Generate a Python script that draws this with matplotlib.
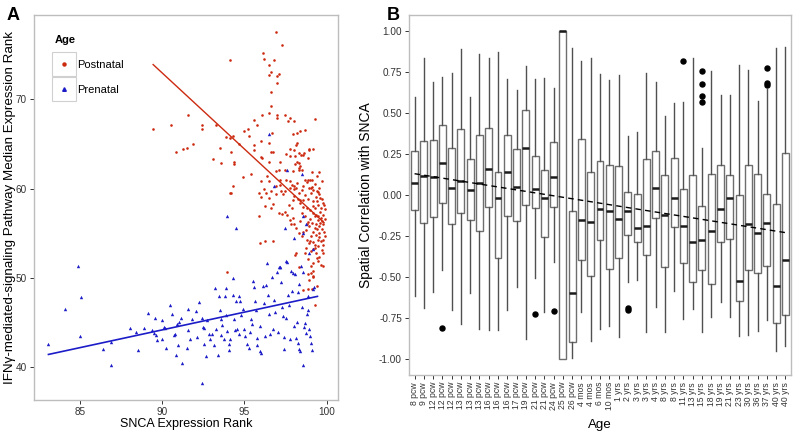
import numpy as np
import matplotlib
matplotlib.use("Agg")
import matplotlib.pyplot as plt
from matplotlib.lines import Line2D
from matplotlib.patches import Rectangle

plt.rcParams['font.family'] = ['Liberation Sans', 'DejaVu Sans']
plt.rcParams['axes.unicode_minus'] = False

# ---------------- panel A data ----------------
red_x = [96.92, 97.28, 94.1, 96.13, 96.19, 96.8, 96.5, 96.6, 96.5, 97.1, 97.0, 96.96, 96.6, 96.64,
         96.5, 96.1, 96.96, 97.0, 97.45, 97.75, 97.65, 98.05, 99.3, 91.6, 92.45, 92.4, 93.26, 95.8,
         95.6, 91.9, 91.5, 91.27, 89.45, 90.53, 90.83,
         93.5, 93.1, 93.6, 94.3, 94.15, 93.9, 95.0, 95.2, 95.3, 94.7, 94.2, 94.35, 94.4, 95.6, 95.6,
         96.0, 96.6, 96.75, 96.5, 96.7, 96.1, 96.0, 96.5, 97.2, 97.1, 96.95, 97.45, 97.55, 97.8, 97.8,
         98.05, 98.2, 97.98, 98.2, 98.15, 98.4, 98.7, 98.1, 98.35, 98.45, 98.6, 98.65, 98.96, 99.17,
         98.96, 98.9, 98.2, 98.3, 98.1, 98.4, 98.35, 97.95, 98.3, 98.5, 99.1, 99.57, 99.4, 99.0, 99.1,
         98.85, 98.8, 98.7, 99.1, 99.2, 98.95, 99.03, 99.4, 99.5, 97.75, 97.55, 97.2, 97.9, 97.75,
         98.05, 98.03, 98.15, 97.5, 97.15, 96.2, 96.4, 96.5, 96.0, 95.4, 94.9, 94.3, 94.1, 94.2, 95.9,
         96.3, 96.6, 96.9,
         95.99, 96.23, 95.87, 96.5, 96.94, 97.35, 97.25, 96.74, 96.6, 97.1, 97.5, 97.6, 97.27, 97.7,
         97.9, 97.99, 98.26, 98.4, 98.6, 98.6, 98.8, 99.0, 99.17, 99.06, 99.37, 99.57, 99.17, 99.47,
         99.67, 99.77, 99.27, 99.47, 99.67, 99.37, 99.57, 98.86, 98.96, 98.76, 99.17, 99.37, 99.57,
         99.06, 99.47, 98.82, 98.96, 99.27, 99.67, 99.77, 98.76, 99.06, 99.17, 99.37, 99.57, 99.67,
         99.77, 99.47, 99.17, 98.86, 99.06, 99.2, 98.15, 98.1, 96.23, 95.93, 96.74, 97.85, 98.05,
         98.15, 97.95, 97.8, 98.4, 98.5, 98.7, 98.4, 93.97, 99.06, 99.17, 98.56, 98.86, 99.13, 99.43,
         98.3, 99.27, 98.9, 99.17, 98.93,
         99.6, 99.8, 99.7, 99.85, 99.5, 99.8, 99.6, 99.3, 99.4, 99.7, 99.9, 99.3, 99.1, 99.0, 99.5,
         99.7, 99.3, 99.8, 99.4, 99.9, 99.0, 99.55, 99.3, 99.75, 99.2, 98.9, 99.85, 99.6, 99.2, 99.45,
         99.35, 99.7, 99.8, 99.9, 99.55,
         98.3, 98.5, 98.7, 98.2, 98.6, 98.0, 98.8, 98.6, 98.5, 98.35, 98.7]
red_y = [77.5, 76.1, 74.4, 75.2, 74.5, 74.4, 73.8, 73.1, 72.7, 72.8, 72.6, 71.8, 70.8, 69.3,
         68.5, 68.3, 68.2, 67.9, 68.3, 67.9, 67.6, 67.6, 67.8, 68.3, 67.1, 66.7, 67.1, 67.1,
         67.7, 65.0, 64.6, 64.4, 66.7, 67.1, 64.06,
         64.6, 63.3, 62.9, 65.9, 65.7, 65.8, 66.5, 66.7, 65.9, 65.0, 64.1, 63.0, 62.8, 64.9, 64.3,
         65.3, 64.1, 64.1, 65.1, 66.2, 63.4, 63.5, 63.0, 63.0, 62.1, 62.0, 62.1, 63.9, 63.7, 64.4,
         64.3, 66.2, 66.1, 65.1, 64.9, 66.5, 66.6, 63.7, 64.0, 63.8, 63.8, 64.0, 64.5, 64.4,
         64.3, 63.4, 63.0, 62.9, 62.8, 62.5, 62.3, 62.0, 62.1, 62.1, 61.9, 61.9, 61.4, 61.0, 61.0,
         61.0, 60.8, 61.0, 60.2, 59.9, 60.1, 60.1, 59.7, 59.6, 60.9, 61.0, 61.0, 60.4, 60.1,
         60.3, 60.0, 60.1, 59.7, 60.4, 60.0, 61.4, 60.9, 60.9, 61.7, 61.3, 60.3, 59.5, 59.5, 59.5,
         59.5, 59.8, 60.3,
         59.1, 58.1, 56.9, 59.0, 59.4, 59.4, 59.7, 58.3, 57.8, 57.3, 57.4, 57.05, 57.2, 58.2,
         57.8, 58.7, 58.9, 58.4, 58.0, 58.7, 57.8, 57.6, 57.3, 59.5, 59.1, 59.4, 58.6, 58.2,
         57.8, 58.4, 56.9, 56.5, 56.7, 56.1, 55.8, 56.3, 55.8, 55.4, 55.2, 54.8, 55.0,
         54.7, 54.3, 54.3, 53.9, 53.7, 54.1, 54.3, 53.4, 53.0, 53.2, 52.8, 52.4, 51.5,
         51.3, 51.9, 51.7, 52.1, 51.3, 50.75, 52.8, 52.6, 54.1, 53.9, 54.2, 56.1, 56.1,
         55.6, 56.7, 56.5, 56.4, 57.3, 56.9, 58.7, 50.7, 50.6, 50.1, 48.7, 48.8, 48.8, 49.1,
         51.2, 47.0, 50.5, 50.2, 49.8,
         56.2, 56.0, 55.5, 55.2, 56.9, 57.1, 57.4, 57.8, 58.6, 58.8, 57.7, 55.6, 56.2, 56.6, 53.6,
         53.1, 53.4, 52.8, 52.2, 54.7, 54.2, 60.1, 60.5, 60.9, 58.1, 58.9, 58.2, 59.0, 54.0, 55.5,
         57.1, 56.4, 53.7, 56.6, 54.6,
         59.5, 59.9, 59.3, 60.6, 60.3, 59.2, 56.0, 55.2, 54.7, 55.0, 52.8]

blue_x = [83.08, 84.88, 84.1, 85.04, 85.0, 86.4, 86.9, 86.9, 88.5, 88.04, 88.4, 88.9, 89.15, 89.4,
          89.5, 89.58, 89.6, 89.66, 89.96, 90.1, 90.16, 90.0, 90.25, 90.5, 90.6, 90.72, 90.78, 90.9,
          91.0, 91.14, 90.95, 90.85, 91.18, 91.5, 91.6, 91.58, 91.7, 91.79, 92.07, 92.13, 92.27,
          92.43, 92.5, 92.56, 92.57, 92.64, 92.4, 92.74, 92.84, 92.94, 93.04, 93.16, 93.24, 93.28,
          93.38, 93.45, 93.5, 93.55, 93.6, 93.65, 93.75, 93.85, 93.9, 93.91, 93.95, 94.05, 94.09,
          94.15, 94.3, 94.3, 94.36, 94.42, 94.5, 94.58, 94.66, 94.7, 94.76, 94.8, 94.92, 94.96,
          95.02, 95.16, 95.26, 95.33, 95.43, 95.47, 95.51, 95.61, 95.67, 95.73, 95.77, 95.8, 95.93,
          95.98, 96.04, 96.14, 96.18, 96.24, 96.34, 96.4, 96.44, 96.5, 96.54, 96.66, 96.74, 96.83,
          96.89, 97.0, 97.06, 97.09, 97.17, 97.23, 97.29, 97.35, 97.39, 97.43, 97.51, 97.6, 97.66,
          97.74, 97.8, 97.86, 97.9, 97.96, 98.1, 98.04, 98.12, 98.2, 98.24, 98.27, 98.33, 98.31,
          98.4, 98.5, 98.6, 98.65, 98.71, 98.77, 98.81, 98.85, 98.89, 98.95, 98.99, 99.05, 99.1,
          99.15, 99.21,
          96.5, 97.6, 98.5, 96.8, 93.97, 94.5, 98.6, 97.5, 98.05, 98.56, 98.76, 97.55, 97.14,
          98.45, 98.6, 98.96, 99.17]
blue_y = [42.6, 51.35, 46.55, 47.9, 43.5, 42.06, 40.27, 42.8, 42.0, 44.36, 44.0, 44.4, 46.1, 44.2,
          43.9, 45.5, 43.6, 43.1, 45.3, 44.5, 44.4, 43.2, 42.2, 46.96, 46.03, 43.6, 43.7, 44.9,
          45.05, 45.5, 42.5, 41.4, 40.5, 42.2, 44.2, 46.55, 43.2, 45.4, 46.3, 43.43, 47.3,
          45.5, 44.55, 44.45, 42.58, 41.3, 38.3, 45.25, 43.76, 43.13, 43.76, 42.54, 48.93, 44.25,
          41.4, 47.97, 46.4, 45.4, 43.65, 44.7, 43.2, 47.97, 48.9, 45.9, 44.06, 42.65, 42.0,
          43.2, 50.05, 48.15, 45.4, 44.14, 47.4, 44.25, 43.76, 48.0, 47.48, 45.9, 46.55, 44.25,
          43.5, 42.57, 42.13, 43.95, 45.4, 44.9, 49.7, 48.97, 47.4, 46.37, 43.3, 42.46, 44.6,
          41.83, 41.65, 49.08, 47.2, 43.5, 49.27, 51.68, 48.15, 46.03, 43.7, 50.12, 44.25, 47.5,
          46.2, 50.64, 43.99, 51.24, 51.24, 49.6, 46.77, 45.73, 42.05, 43.4, 45.5, 51.83, 48.1,
          46.96, 43.2, 50.75, 48.5, 50.6, 50.5, 44.6, 43.3, 45.1, 48.4, 42.7, 49.3, 42.1,
          41.8, 46.8, 40.24, 44.5, 45.0, 43.9, 46.0, 48.0, 46.4, 44.3, 43.5, 42.7, 42.0,
          48.8, 49.0,
          66.1, 62.1, 61.7, 60.3, 57.0, 55.6, 56.9, 55.66, 54.47, 55.0, 56.1, 51.87, 51.2,
          51.4, 50.7, 52.86, 53.2]

# fitted lines
red_fit_x = [89.45, 99.85]
red_fit_y = [73.9, 56.2]
blue_fit_x = [83.08, 99.45]
blue_fit_y = [41.45, 47.95]

# ---------------- panel B data ----------------
ages = ["8 pcw", "9 pcw", "12 pcw", "12 pcw", "12 pcw", "13 pcw", "13 pcw", "13 pcw", "16 pcw",
        "16 pcw", "16 pcw", "17 pcw", "19 pcw", "21 pcw", "21 pcw", "24 pcw", "25 pcw", "26 pcw",
        "4 mos", "4 mos", "6 mos", "10 mos", "1 yrs", "2 yrs", "3 yrs", "3 yrs", "4 yrs", "8 yrs",
        "8 yrs", "11 yrs", "13 yrs", "15 yrs", "18 yrs", "19 yrs", "21 yrs", "23 yrs", "30 yrs",
        "36 yrs", "37 yrs", "40 yrs", "40 yrs"]
whis_lo = [-0.62, -0.69, -0.59, -0.46, -0.70, -0.787, -0.60, -0.82, -0.825, -0.825, -0.70, -0.565,
           -0.878, -0.506, -0.717, -0.41, -1.0, -0.996, -0.713, -0.89, -0.82, -0.80, -0.866, -0.533,
           -0.522, -0.837, -0.683, -0.837, -0.585, -0.756, -0.695, -0.84, -0.748, -0.654, -0.748,
           -0.862, -0.858, -0.83, -0.762, -0.955, -0.92]
q1 = [-0.09, -0.17, -0.134, -0.05, -0.177, -0.112, -0.152, -0.22, -0.073, -0.386, -0.13, -0.156,
      -0.063, -0.08, -0.256, -0.075, -1.0, -0.90, -0.396, -0.496, -0.274, -0.45, -0.386, -0.246,
      -0.29, -0.366, -0.142, -0.44, -0.197, -0.417, -0.533, -0.46, -0.545, -0.29, -0.268,
      -0.646, -0.457, -0.476, -0.433, -0.78, -0.734]
med = [0.075, 0.118, 0.108, 0.197, 0.045, 0.083, 0.033, 0.071, 0.156, -0.016, 0.138, 0.049,
       0.285, 0.035, -0.016, 0.11, 1.0, -0.60, -0.15, -0.163, -0.083, -0.098, -0.148, -0.098,
       -0.203, -0.187, 0.04, -0.122, -0.016, -0.189, -0.287, -0.278, -0.22, -0.083, -0.02,
       -0.528, -0.179, -0.23, -0.171, -0.555, -0.40]
q3 = [0.27, 0.33, 0.335, 0.425, 0.285, 0.406, 0.217, 0.364, 0.41, 0.138, 0.364, 0.278,
      0.518, 0.237, 0.15, 0.323, 1.0, -0.10, 0.341, 0.138, 0.205, 0.183, 0.179, 0.02,
      0.004, 0.22, 0.268, 0.124, 0.228, 0.035, 0.12, -0.067, 0.126, 0.185, 0.124,
      -0.002, 0.181, 0.128, 0.004, -0.053, 0.258]
whis_hi = [0.60, 0.837, 0.69, 0.72, 0.748, 0.89, 0.60, 0.86, 0.84, 0.874, 0.71, 0.64,
           0.79, 0.711, 0.717, 0.656, 1.0, 0.90, 0.817, 0.84, 0.742, 0.70, 0.734, 0.36,
           0.384, 0.748, 0.689, 0.48, 0.56, 0.571, 0.837, 0.29, 0.76, 0.61, 0.608,
           0.793, 0.764, 0.573, 0.65, 0.898, 0.904]
outliers = {4: [-0.81], 14: [-0.73], 16: [-0.707], 24: [-0.69, -0.705], 30: [0.819],
            32: [0.756, 0.68, 0.604, 0.571], 39: [0.778, 0.683, 0.673]}
trend_y = [0.13, -0.23]   # dashed trend, first to last age

RED = "#cc2a10"
BLUE = "#1c1cc8"
FRAME = "#bdbdbd"
TICK_C = "#333333"


def style_axes(ax):
    for s in ax.spines.values():
        s.set_color(FRAME)
        s.set_linewidth(1.0)
    ax.tick_params(direction="out", length=3, width=0.7, color=TICK_C, pad=2,
                   labelcolor="#333333", labelsize=7.2)


fig = plt.figure(figsize=(7.94, 4.33), dpi=100)

# ---------- A ----------
axA = fig.add_axes([0.0428, 0.0762, 0.3829, 0.8892])
axA.scatter(red_x, red_y, s=3.5, color=RED, marker="o", linewidths=0, zorder=3)
axA.scatter(blue_x, blue_y, s=6, color=BLUE, marker="^", linewidths=0, zorder=3)
axA.plot(red_fit_x, red_fit_y, color=RED, lw=1.0, zorder=2)
axA.plot(blue_fit_x, blue_fit_y, color=BLUE, lw=1.2, zorder=2)
axA.set_xlim(82.2, 100.7)
axA.set_ylim(36.35, 79.45)
axA.set_xticks([85, 90, 95, 100])
axA.set_yticks([40, 50, 60, 70])
style_axes(axA)
axA.set_xlabel("SNCA Expression Rank", fontsize=9.0, labelpad=1)
axA.set_ylabel("IFN\u03b3-mediated-signaling Pathway Median Expression Rank", fontsize=9.6)
axA.yaxis.set_label_coords(-0.06, 0.5)

handles = [Line2D([], [], marker="o", ls="none", color=RED, markersize=2.2),
           Line2D([], [], marker="^", ls="none", color=BLUE, markersize=2.6)]
leg = axA.legend(handles, ["Postnatal", "Prenatal"], title="Age", loc="upper left",
                 bbox_to_anchor=(0.035, 0.975), frameon=False, fontsize=8,
                 handlelength=1.6, handletextpad=0.45, labelspacing=1.35,
                 title_fontproperties={"weight": "bold", "size": 8})
leg._legend_box.align = "left"

# ---------- B ----------
axB = fig.add_axes([0.5151, 0.134, 0.4811, 0.8314])
stats = []
for i in range(len(ages)):
    stats.append({"whislo": whis_lo[i], "q1": q1[i], "med": med[i], "q3": q3[i],
                  "whishi": whis_hi[i], "fliers": outliers.get(i + 1, [])})
pos = np.arange(1, len(ages) + 1)
axB.bxp(stats, positions=pos, widths=0.75, patch_artist=True, showcaps=False,
        boxprops=dict(facecolor="white", edgecolor="#6e6e6e", linewidth=1.0),
        whiskerprops=dict(color="#505050", linewidth=1.0),
        medianprops=dict(color="#1a1a1a", linewidth=1.8, solid_capstyle="butt"),
        flierprops=dict(marker="o", markerfacecolor="black", markeredgecolor="black",
                        markersize=3.6))
axB.plot([pos[0], pos[-1]], trend_y, color="black", ls=(0, (4, 3)), lw=1.0, zorder=5)
axB.set_xlim(0.4, len(ages) + 0.6)
axB.set_ylim(-1.1, 1.1)
axB.set_yticks([-1.0, -0.75, -0.5, -0.25, 0.0, 0.25, 0.5, 0.75, 1.0])
axB.set_yticklabels([f"{v:.2f}" for v in [-1.0, -0.75, -0.5, -0.25, 0.0, 0.25, 0.5, 0.75, 1.0]])
axB.set_xticks(pos)
axB.set_xticklabels(ages, rotation=90)
style_axes(axB)
axB.tick_params(axis="x", labelsize=6.2)
axB.set_xlabel("Age", fontsize=9.6, labelpad=6)
axB.set_ylabel("Spatial Correlation with SNCA", fontsize=10)
axB.yaxis.set_label_coords(-0.094, 0.5)

fig.text(0.008, 0.965, "A", fontsize=13, fontweight="bold", va="center")
fig.text(0.487, 0.965, "B", fontsize=13, fontweight="bold", va="center")

# legend key boxes like the original
fig.canvas.draw()
rend = fig.canvas.get_renderer()
inv = fig.transFigure.inverted()
for h in leg.legend_handles:
    bb = h.get_window_extent(rend)
    cx, cy = (bb.x0 + bb.x1) / 2, (bb.y0 + bb.y1) / 2
    (x0, y0) = inv.transform((cx - 12, cy - 12))
    (x1, y1) = inv.transform((cx + 12, cy + 12))
    fig.patches.append(Rectangle((x0, y0), x1 - x0, y1 - y0, transform=fig.transFigure,
                                 facecolor="none", edgecolor="#d0d0d0", lw=0.8, figure=fig))

fig.savefig("out.png", dpi=100)
